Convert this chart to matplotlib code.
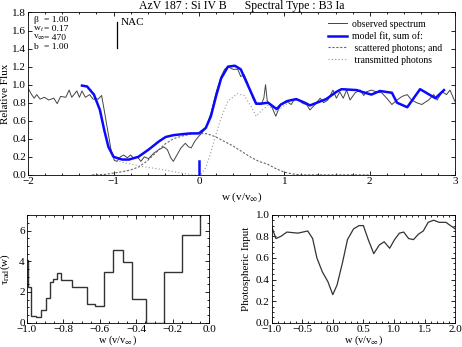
import matplotlib
matplotlib.use("Agg")
import matplotlib.pyplot as plt
from matplotlib.ticker import MultipleLocator
from matplotlib.lines import Line2D

plt.rcParams['font.family'] = ['Liberation Serif', 'DejaVu Serif']
plt.rcParams['mathtext.fontset'] = 'stix'
plt.rcParams['font.size'] = 8

# ---------------- data ----------------
obs_x = [-2.00, -1.96, -1.93, -1.90, -1.86, -1.81, -1.76, -1.70, -1.66, -1.62, -1.56, -1.52,
         -1.49, -1.43, -1.40, -1.37, -1.33, -1.28, -1.24, -1.18, -1.14, -1.11, -1.07, -1.03,
         -0.99, -0.96, -0.92, -0.88, -0.84, -0.80, -0.76, -0.72, -0.68, -0.64, -0.59, -0.53,
         -0.47, -0.41, -0.37, -0.33, -0.30, -0.27, -0.21, -0.16, -0.12, -0.09, -0.05, -0.01,
         0.03, 0.08, 0.14, 0.20, 0.26, 0.30, 0.34, 0.40, 0.455, 0.49, 0.53, 0.57, 0.63, 0.67,
         0.73, 0.76, 0.78, 0.80, 0.85, 0.90, 0.93, 0.96, 1.02, 1.08, 1.12, 1.18, 1.22, 1.26,
         1.30, 1.36, 1.42, 1.46, 1.51, 1.57, 1.61, 1.65, 1.69, 1.73, 1.77, 1.83, 1.89, 1.93,
         1.96, 2.02, 2.08, 2.14, 2.20, 2.26, 2.32, 2.38, 2.44, 2.49, 2.55, 2.61, 2.69, 2.75,
         2.79, 2.85, 2.90, 2.94, 3.00]
obs_y = [0.96, 0.89, 0.85, 0.89, 0.84, 0.86, 0.83, 0.85, 0.79, 0.87, 0.86, 0.94,
         0.86, 0.93, 0.86, 0.93, 0.86, 0.89, 0.84, 0.84, 0.88, 0.72, 0.50, 0.28,
         0.16, 0.15, 0.20, 0.22, 0.19, 0.22, 0.18, 0.20, 0.15, 0.20, 0.18, 0.24,
         0.28, 0.31, 0.28, 0.19, 0.15, 0.20, 0.30, 0.35, 0.31, 0.30, 0.37, 0.42,
         0.46, 0.52, 0.68, 0.91, 1.09, 1.17, 1.20, 1.17, 1.17, 1.09, 1.11, 1.02, 0.85, 0.78,
         0.78, 0.85, 1.00, 0.82, 0.76, 0.65, 0.72, 0.78, 0.82, 0.78, 0.84, 0.82, 0.79, 0.78,
         0.72, 0.78, 0.85, 0.80, 0.83, 0.94, 0.85, 0.92, 0.85, 0.94, 0.83, 0.91, 0.94, 0.88,
         0.92, 0.94, 0.92, 0.91, 0.85, 0.78, 0.83, 0.87, 0.89, 0.83, 0.80, 0.78, 0.83, 0.89,
         0.83, 0.92, 0.89, 0.94, 0.81]

fit_x = [-1.37, -1.31, -1.23, -1.16, -1.11, -1.06, -1.00, -0.90, -0.82, -0.71, -0.59, -0.47,
         -0.39, -0.30, -0.21, -0.10, 0.00, 0.08, 0.14, 0.20, 0.26, 0.34, 0.42, 0.49, 0.57,
         0.67, 0.73, 0.81, 0.91, 0.96, 1.04, 1.14, 1.24, 1.30, 1.49, 1.61, 1.67, 1.85, 1.91,
         2.02, 2.12, 2.26, 2.32, 2.44, 2.59, 2.77, 2.87]
fit_y = [0.99, 0.98, 0.89, 0.72, 0.50, 0.31, 0.20, 0.17, 0.17, 0.20, 0.28, 0.37,
         0.42, 0.44, 0.45, 0.46, 0.46, 0.52, 0.65, 0.87, 1.07, 1.20, 1.21, 1.17, 1.00,
         0.79, 0.79, 0.80, 0.73, 0.78, 0.82, 0.84, 0.80, 0.77, 0.84, 0.92, 0.95, 0.94, 0.92,
         0.89, 0.93, 0.91, 0.80, 0.75, 0.95, 0.85, 0.94]

scat_x = [-1.25, -1.10, -1.00, -0.90, -0.80, -0.70, -0.60, -0.50, -0.40, -0.30, -0.20, -0.10,
          0.00, 0.10, 0.20, 0.30, 0.40, 0.50, 0.60, 0.70, 0.80, 0.90, 1.00, 1.10, 1.20, 2.00]
scat_y = [0.0, 0.005, 0.02, 0.035, 0.055, 0.09, 0.16, 0.25, 0.34, 0.40, 0.43, 0.45,
          0.46, 0.455, 0.42, 0.37, 0.32, 0.26, 0.20, 0.15, 0.12, 0.07, 0.03, 0.01, 0.0, 0.0]

trans_x = [-1.37, -1.31, -1.23, -1.16, -1.11, -1.06, -1.00, -0.90, -0.80, -0.65, -0.50, -0.35,
           -0.20, -0.08, 0.02, 0.08, 0.14, 0.20, 0.26, 0.34, 0.45, 0.53, 0.61, 0.67, 0.73,
           0.81, 0.91, 1.00, 1.10, 1.20, 1.30, 1.49, 1.61, 1.67, 1.85, 1.91, 2.02, 2.12, 2.26,
           2.32, 2.44, 2.59, 2.77, 2.87]
trans_y = [0.99, 0.98, 0.89, 0.72, 0.50, 0.30, 0.17, 0.14, 0.12, 0.09, 0.07, 0.045,
           0.02, 0.0, 0.0, 0.08, 0.25, 0.45, 0.63, 0.82, 0.90, 0.88, 0.76, 0.65, 0.71,
           0.77, 0.70, 0.77, 0.83, 0.82, 0.77, 0.84, 0.92, 0.95, 0.94, 0.92, 0.89, 0.93, 0.91,
           0.80, 0.75, 0.95, 0.85, 0.94]

tau_edges = [-1.0, -0.995, -0.975, -0.95, -0.92, -0.895, -0.873, -0.855, -0.836, -0.815, -0.755,
             -0.672, -0.626, -0.575, -0.526, -0.475, -0.425, -0.348, -0.25, -0.15, -0.05, 0.0]
tau_vals = [4.1, 2.3, 0.45, 0.35, 0.8, 1.6, 2.65, 2.85, 3.25, 2.75, 2.3, 1.25, 1.1, 3.3,
            4.75, 3.95, 1.55, 0.0, 3.3, 5.7, 8.0]

phot_x = [-1.00, -0.93, -0.85, -0.75, -0.57, -0.41, -0.33, -0.26, -0.17, -0.08, 0.00, 0.07,
          0.16, 0.24, 0.34, 0.43, 0.50, 0.58, 0.67, 0.76, 0.84, 0.93, 1.01, 1.09, 1.16, 1.24,
          1.32, 1.40, 1.48, 1.56, 1.65, 1.74, 1.85, 2.00]
phot_y = [0.89, 0.78, 0.80, 0.84, 0.83, 0.85, 0.78, 0.60, 0.47, 0.38, 0.26, 0.35,
          0.56, 0.77, 0.87, 0.90, 0.90, 0.77, 0.64, 0.72, 0.75, 0.69, 0.77, 0.83, 0.84, 0.78,
          0.77, 0.82, 0.85, 0.93, 0.95, 0.93, 0.93, 0.87]

params = [("β", "= 1.00"), ("w$_t$", "= 0.17"), ("v$_\\infty$", "= 470"), ("b", "= 1.00")]

main_xticks = [-2, -1, 0, 1, 2, 3]
main_yticks = [0.0, 0.2, 0.4, 0.6, 0.8, 1.0, 1.2, 1.4, 1.6, 1.8]
tau_xticks = [-1.0, -0.8, -0.6, -0.4, -0.2, 0.0]
phot_xticks = [-1.0, -0.5, 0.0, 0.5, 1.0, 1.5, 2.0]
phot_yticks = [0.0, 0.2, 0.4, 0.6, 0.8, 1.0]

# ---------------- figure ----------------
fig = plt.figure(figsize=(4.62, 3.47), dpi=100)


def fmt(v, nd):
    s = f"{v:.{nd}f}"
    return s.replace('-', '\u2212')


def style(ax):
    ax.tick_params(direction='in', which='both', top=True, right=True, labelsize=8,
                   length=3, width=0.6, pad=1.5)
    ax.tick_params(which='minor', length=1.5)
    for s in ax.spines.values():
        s.set_linewidth(0.6)


ax = fig.add_axes([0.061, 0.496, 0.924, 0.468])
ax.plot(obs_x, obs_y, color='#444444', lw=0.7)
ax.plot(scat_x, scat_y, color='#666666', lw=0.8, ls=(0, (2, 1.5)))
ax.plot(trans_x, trans_y, color='#999999', lw=0.8, ls=(0, (1, 2)))
ax.plot(fit_x, fit_y, color='#0a0aff', lw=1.8)
ax.plot([0, 0], [0, 0.15], color='#0a0aff', lw=1.8)
ax.plot([-0.957, -0.957], [1.41, 1.70], color='black', lw=0.9)
ax.text(-0.92, 1.74, "NAC", fontsize=8, va='top', ha='left')
for i, (name, val) in enumerate(params):
    yy = 1.715 - i * 0.098
    ax.text(-1.94, yy, name, fontsize=6.8, va='center', ha='left')
    ax.text(-1.81, yy, val, fontsize=6.8, va='center', ha='left')

handles = [Line2D([], [], color='#444444', lw=0.7),
           Line2D([], [], color='#0a0aff', lw=1.8),
           Line2D([], [], color='#666666', lw=0.8, ls=(0, (2, 1.5))),
           Line2D([], [], color='#999999', lw=0.8, ls=(0, (1, 2)))]
labels = ['observed spectrum', 'model fit, sum of:', ' scattered photons; and', ' transmitted photons']
ax.legend(handles, labels, loc='upper right', bbox_to_anchor=(0.99, 1.01), frameon=False,
          fontsize=7, handlelength=2.0, handletextpad=0.5, labelspacing=0.3)

ax.set_xlim(-2, 3)
ax.set_ylim(0, 1.8)
ax.set_xticks(main_xticks)
ax.set_xticklabels([fmt(v, 0) for v in main_xticks])
ax.set_yticks(main_yticks)
ax.set_yticklabels([fmt(v, 1) for v in main_yticks])
ax.xaxis.set_minor_locator(MultipleLocator(0.2))
style(ax)
ax.set_ylabel('Relative Flux', fontsize=8)
ax.yaxis.set_label_coords(-0.043, 0.5)
ax.set_xlabel('w (v/v$_\\infty$)', fontsize=8)
ax.xaxis.set_label_coords(0.5, -0.095)
ax.set_title('AzV 187 : Si IV B      Spectral Type : B3 Ia', fontsize=8.5, pad=2)

# lower-left: tau
ax2 = fig.add_axes([0.058, 0.070, 0.395, 0.310])
ax2.stairs(tau_vals, tau_edges, baseline=None, color='#333333', lw=1.0)
ax2.set_xlim(-1.0, 0.0)
ax2.set_ylim(0, 7)
ax2.set_xticks(tau_xticks)
ax2.set_xticklabels([fmt(v, 1) for v in tau_xticks])
ax2.xaxis.set_minor_locator(MultipleLocator(0.05))
ax2.yaxis.set_major_locator(MultipleLocator(2))
ax2.yaxis.set_minor_locator(MultipleLocator(0.5))
style(ax2)
ax2.set_ylabel('τ$_{\\rm rad}$(w)', fontsize=8)
ax2.yaxis.set_label_coords(-0.08, 0.5)
ax2.set_xlabel('w (v/v$_\\infty$)', fontsize=7.5)
ax2.xaxis.set_label_coords(0.5, -0.10)

# lower-right: photospheric input
ax3 = fig.add_axes([0.588, 0.070, 0.397, 0.311])
ax3.plot(phot_x, phot_y, color='#333333', lw=0.9)
ax3.set_xlim(-1.0, 2.0)
ax3.set_ylim(0, 1.0)
ax3.set_xticks(phot_xticks)
ax3.set_xticklabels([fmt(v, 1) for v in phot_xticks])
ax3.set_yticks(phot_yticks)
ax3.set_yticklabels([fmt(v, 1) for v in phot_yticks])
ax3.xaxis.set_minor_locator(MultipleLocator(0.1))
ax3.yaxis.set_minor_locator(MultipleLocator(0.05))
style(ax3)
ax3.set_ylabel('Photospheric Input', fontsize=8)
ax3.yaxis.set_label_coords(-0.115, 0.5)
ax3.set_xlabel('w (v/v$_\\infty$)', fontsize=7.5)
ax3.xaxis.set_label_coords(0.5, -0.10)

fig.savefig('out.png', dpi=100)
